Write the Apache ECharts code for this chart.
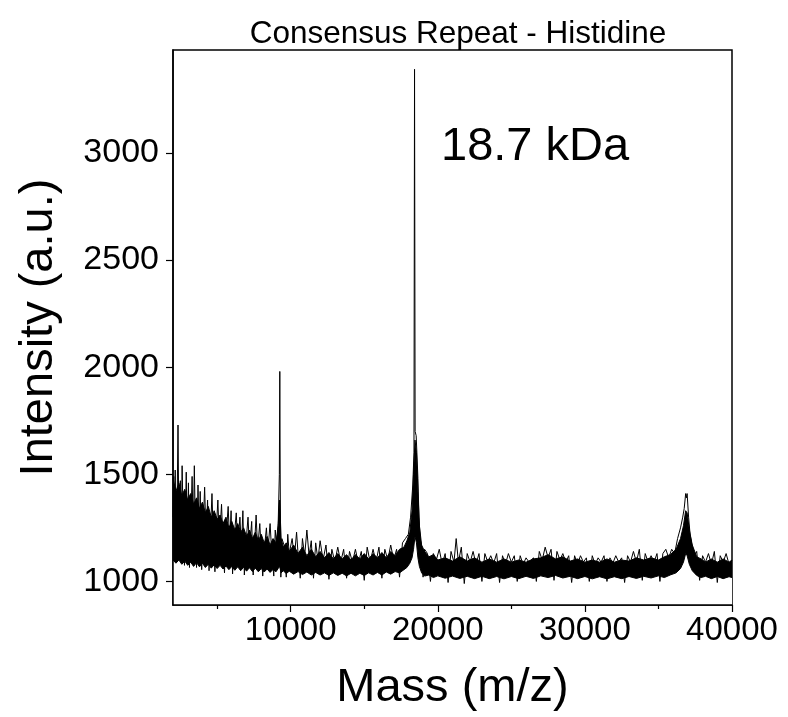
<!DOCTYPE html>
<html><head><meta charset="utf-8">
<script src="https://cdn.jsdelivr.net/npm/echarts@6/dist/echarts.min.js"></script>
<style>html,body{margin:0;padding:0;background:#fff}#c{width:788px;height:717px}</style>
</head><body><div id="c"></div>
<script>
const titleText = "Consensus Repeat - Histidine";
const xName = "Mass (m/z)";
const yName = "Intensity (a.u.)";
const peakLabel = "18.7 kDa";
const xTicks = [10000, 20000, 30000, 40000];
const xMinorTicks = [5000, 15000, 25000, 35000];
const yTicks = [1000, 1500, 2000, 2500, 3000];

// noise band envelope (mass, low edge, high edge)
const bandMass = [2000,2200,2400,2600,2800,3000,3200,3400,3600,3800,4000,4200,4400,4600,4800,5000,5200,5400,5600,5800,6000,6200,6400,6600,6800,7000,7200,7400,7600,7800,8000,8200,8400,8600,8800,9000,9150,9250,9350,9500,9700,9900,10200,10500,10800,11100,11400,11700,12000,12300,12600,12900,13200,13500,13800,14100,14400,14700,15000,15300,15600,15900,16200,16500,16800,17100,17400,17700,17900,18100,18250,18350,18450,18550,18650,18750,18900,19100,19400,19700,20000,20500,21000,21500,22000,22500,23000,23500,24000,24500,25000,25500,26000,26500,27000,27500,28000,28500,29000,29500,30000,30500,31000,31500,32000,32500,33000,33500,34000,34500,35000,35400,35800,36200,36500,36700,36850,36950,37100,37300,37600,37900,38200,38600,39000,39400,39800,40000];
const bandHigh = [1480,1420,1460,1400,1430,1380,1410,1360,1390,1340,1370,1320,1350,1300,1330,1290,1310,1270,1300,1250,1280,1240,1270,1230,1250,1210,1240,1200,1230,1190,1220,1180,1210,1170,1200,1180,1260,1380,1200,1160,1180,1140,1170,1130,1160,1120,1150,1115,1140,1110,1135,1105,1130,1105,1125,1100,1125,1105,1130,1105,1130,1110,1135,1110,1140,1120,1150,1160,1190,1230,1330,1500,1660,1600,1420,1260,1170,1140,1115,1125,1100,1110,1095,1115,1095,1110,1090,1105,1090,1105,1090,1100,1090,1105,1110,1125,1105,1115,1095,1105,1090,1100,1090,1105,1090,1100,1095,1110,1100,1110,1100,1115,1125,1150,1200,1260,1330,1320,1240,1170,1115,1105,1090,1105,1090,1105,1090,1100];
const bandLow = [1100,1085,1100,1080,1095,1075,1090,1070,1088,1068,1085,1065,1080,1062,1078,1060,1075,1058,1072,1055,1070,1052,1068,1050,1066,1048,1064,1046,1062,1045,1060,1044,1058,1042,1056,1045,1060,1070,1040,1050,1036,1048,1034,1046,1032,1044,1030,1042,1030,1040,1028,1040,1028,1038,1026,1038,1026,1038,1028,1040,1030,1042,1030,1044,1034,1046,1040,1055,1065,1085,1110,1150,1210,1180,1110,1070,1040,1025,1030,1018,1026,1015,1025,1014,1024,1013,1024,1013,1023,1012,1023,1013,1024,1014,1026,1018,1028,1016,1024,1013,1023,1012,1022,1012,1022,1013,1023,1014,1024,1016,1026,1018,1030,1040,1060,1090,1130,1120,1080,1050,1028,1018,1024,1013,1023,1013,1022,1018];

// signal trace (spikes rising above / dipping below the band)
const sigMass = [2000,2050,2100,2150,2200,2280,2340,2400,2500,2560,2620,2700,2780,2850,2900,2960,3050,3120,3200,3300,3380,3450,3520,3600,3700,3780,3850,3950,4050,4150,4250,4350,4450,4550,4650,4750,4850,4950,5050,5150,5300,5400,5500,5600,5750,5850,5950,6050,6150,6300,6400,6550,6650,6750,6850,6950,7100,7200,7350,7450,7550,7650,7750,7900,8000,8100,8250,8350,8450,8600,8700,8850,8950,9050,9150,9230,9260,9290,9330,9400,9550,9700,9800,9900,10100,10250,10400,10500,10650,10800,10950,11100,11250,11400,11550,11700,11850,12000,12200,12400,12600,12800,13000,13200,13400,13600,13800,14000,14200,14400,14600,14800,15000,15200,15400,15600,15800,16000,16200,16400,16600,16800,17000,17200,17400,17600,17800,18000,18150,18300,18380,18420,18460,18530,18580,18650,18720,18800,18900,19000,19100,19300,19500,19700,19900,20100,20300,20500,20700,20900,21100,21250,21400,21600,21800,22000,22200,22400,22600,22800,23000,23200,23400,23600,23800,24000,24200,24400,24600,24800,25000,25200,25400,25600,25800,26000,26200,26500,26700,26900,27100,27300,27500,27700,27900,28100,28300,28500,28700,28900,29100,29300,29500,29700,29900,30100,30300,30500,30700,30900,31100,31300,31500,31700,31900,32100,32300,32500,32700,32900,33100,33300,33500,33700,33900,34100,34300,34500,34700,34900,35100,35300,35500,35700,35900,36100,36300,36500,36650,36750,36850,36900,36950,37050,37150,37300,37450,37600,37800,38000,38200,38400,38600,38800,39000,39200,39400,39600,39800,40000];
const sigInt = [1300,1490,1250,1520,1200,1350,1730,1250,1470,1150,1540,1250,1075,1300,1510,1200,1460,1065,1250,1490,1220,1540,1250,1065,1450,1200,1420,1055,1250,1440,1200,1380,1050,1230,1410,1180,1045,1250,1380,1180,1360,1170,1040,1200,1350,1180,1330,1035,1200,1320,1160,1300,1150,1330,1030,1170,1300,1150,1280,1030,1180,1310,1150,1270,1140,1025,1180,1250,1140,1270,1150,1025,1240,1160,1270,1500,1980,1450,1020,1200,1170,1020,1220,1130,1200,1110,1230,1130,1015,1200,1120,1240,1120,1190,1015,1180,1100,1190,1100,1170,1010,1150,1090,1160,1090,1150,1015,1140,1090,1150,1085,1140,1005,1160,1090,1150,1090,1160,1015,1150,1100,1170,1100,1150,1020,1180,1200,1220,1300,1450,1600,3390,1700,1680,1600,1480,1300,1200,1160,1020,1150,1130,1000,1130,1100,1150,1080,1130,995,1140,1090,1200,1090,1160,990,1130,1090,1140,1080,1130,1000,1130,1090,1120,1085,1130,995,1120,1080,1130,1090,1120,1000,1120,1080,1110,1090,1110,1000,1140,1100,1160,1110,1150,1005,1140,1100,1130,1090,1120,995,1120,1080,1120,1090,1110,1000,1120,1080,1110,1090,1120,1000,1110,1085,1120,1090,1110,995,1120,1090,1140,1090,1150,1005,1130,1090,1120,1090,1130,1000,1130,1150,1110,1150,1130,1200,1250,1300,1340,1410,1390,1410,1300,1220,1160,1120,1140,1005,1120,1090,1130,1080,1140,995,1120,1090,1130,1080,1100];

const FONT = "Liberation Sans";
const zip = (a, b) => a.map((v, i) => [v, b[i]]);
const plain = v => String(v);

const chart = echarts.init(document.getElementById('c'));
const axisLineStyle = { color: '#000', width: 1.5 };
chart.setOption({
  animation: false,
  backgroundColor: '#fff',
  title: { text: titleText, left: 453, top: 13, textAlign: 'center',
    textStyle: { fontFamily: FONT, fontSize: 31.5, fontWeight: 'normal', color: '#000' } },
  grid: { left: 173, right: 56, top: 50, bottom: 111, show: true, borderColor: '#000', borderWidth: 1.5, backgroundColor: 'transparent' },
  xAxis: [{
    type: 'value', min: 2000, max: 40000, z: 10,
    name: xName, nameLocation: 'middle', nameGap: 60,
    nameTextStyle: { fontFamily: FONT, fontSize: 47, color: '#000' },
    axisLine: { show: true, lineStyle: axisLineStyle },
    axisTick: { show: true, length: 7, lineStyle: { color: '#000', width: 1.2 }, customValues: xTicks },
    axisLabel: { fontFamily: FONT, fontSize: 33, color: '#000', margin: 9, customValues: xTicks, formatter: plain },
    splitLine: { show: false }
  }, {
    type: 'value', min: 2000, max: 40000, position: 'bottom', z: 10,
    axisLine: { show: false },
    axisTick: { show: true, length: 4, lineStyle: { color: '#000', width: 1.2 }, customValues: xMinorTicks },
    axisLabel: { show: false }, splitLine: { show: false }
  }],
  yAxis: {
    type: 'value', min: 890, max: 3480, z: 10,
    name: yName, nameLocation: 'middle', nameGap: 110,
    nameTextStyle: { fontFamily: FONT, fontSize: 47, color: '#000' },
    axisLine: { show: true, lineStyle: axisLineStyle },
    axisTick: { show: true, length: 7, lineStyle: { color: '#000', width: 1.2 }, customValues: yTicks },
    axisLabel: { fontFamily: FONT, fontSize: 34, color: '#000', margin: 14, customValues: yTicks, formatter: plain },
    splitLine: { show: false }
  },
  graphic: [{ type: 'text', left: 441, top: 124, style: { text: peakLabel, fontFamily: FONT, fontSize: 47, fill: '#000' } }],
  series: [
    { type: 'line', data: zip(bandMass, bandHigh), symbol: 'none', lineStyle: { color: '#000', width: 1 },
      areaStyle: { color: '#000', opacity: 1, origin: 'start' }, z: 2 },
    { type: 'line', data: zip(bandMass, bandLow), symbol: 'none', lineStyle: { color: '#000', width: 1 },
      areaStyle: { color: '#fff', opacity: 1, origin: 'start' }, z: 3 },
    { type: 'line', data: zip(sigMass, sigInt), symbol: 'none', lineStyle: { color: '#000', width: 1 }, z: 4 }
  ]
});
</script></body></html>
